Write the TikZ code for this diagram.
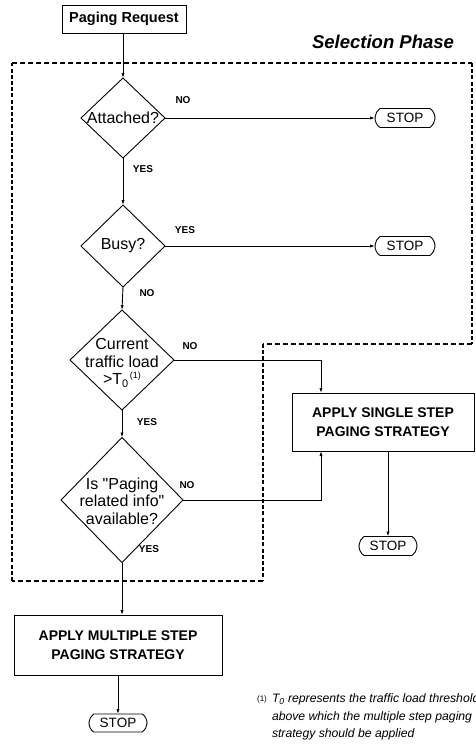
\documentclass[tikz,border=0pt]{standalone}
\usepackage{fontspec}
\setmainfont{Liberation Sans}
\usetikzlibrary{shapes.geometric,shapes.misc,arrows.meta}

\begin{document}
\begin{tikzpicture}[x=1pt,y=-1pt,
  every node/.style={inner sep=0pt, outer sep=0pt},
  line/.style={line width=0.9pt},
  arr/.style={line, -{Latex[length=5pt,width=3.2pt]}},
  box/.style={draw, line width=0.9pt, align=center,
    font=\fontsize{14}{19.5}\selectfont\bfseries},
  dia/.style={draw, diamond, line width=0.9pt},
  dtext/.style={align=center, font=\fontsize{16}{17.5}\selectfont},
  yn/.style={font=\fontsize{10}{10}\selectfont\bfseries},
  stopnode/.style={draw, rounded rectangle, rounded rectangle arc length=110,
    line width=0.9pt, minimum width=58pt, minimum height=19pt,
    font=\fontsize{13.5}{13.5}\selectfont},
  hdash/.style={line width=1.2pt, dash pattern=on 5pt off 3pt},
  vdash/.style={line width=1.5pt, dash pattern=on 4pt off 2.2pt},
]
\useasboundingbox (0,0) rectangle (475,748);

% start box and phase title
\node[box, minimum width=124pt, minimum height=28pt,
  font=\fontsize{14.5}{14.5}\selectfont\bfseries] (req) at (124,19) {Paging Request};
\node[font=\fontsize{18.5}{18.5}\selectfont\bfseries\itshape] (phase) at (383,42) {Selection Phase};

% selection phase frame
\coordinate (d1) at (12,63);
\coordinate (d2) at (472,63);
\coordinate (d3) at (472,344);
\coordinate (d4) at (263,344);
\coordinate (d5) at (263,581);
\coordinate (d6) at (12,581);
\draw[hdash] (d1) -- (d2);
\draw[vdash] (d2) -- (d3);
\draw[hdash] (d3) -- (d4);
\draw[vdash] (d4) -- (d5);
\draw[hdash] (d5) -- (d6);
\draw[vdash] (d6) -- (d1);

% decisions
\node[dia, minimum width=84pt, minimum height=80pt] (att) at (123,118) {};
\node[dtext] (attT) at (att.center) {Attached?};

\node[dia, minimum width=84pt, minimum height=82pt] (busy) at (123,246) {};
\node[dtext] (busyT) at (busy.center) {Busy?};

\node[dia, minimum width=104pt, minimum height=100pt] (cur) at (122,360) {};
\node[dtext] (curT) at (122,363) {Current\\traffic load\\%
  >T\raisebox{-3pt}{\fontsize{11}{11}\selectfont 0}\hspace{1.5pt}\raisebox{6pt}{\fontsize{9}{9}\selectfont (1)}};

\node[dia, minimum width=122pt, minimum height=125pt] (info) at (122,500) {};
\node[dtext] (infoT) at (122,501) {Is \textquotedbl Paging\\related info\textquotedbl\\available?};

% stops of the selection phase
\node[stopnode, minimum width=60pt] (stop1) at (405,118) {STOP};
\node[stopnode, minimum width=60pt] (stop2) at (405,246) {STOP};

% strategies
\node[box, minimum width=182pt, minimum height=58pt] (single) at (383,422)
  {APPLY SINGLE STEP\\PAGING STRATEGY};
\node[stopnode] (stop3) at (388,546) {STOP};

\node[box, minimum width=208pt, minimum height=60pt] (multi) at (118,645)
  {APPLY MULTIPLE STEP\\PAGING STRATEGY};
\node[stopnode, minimum height=18pt] (stop4) at (118,723) {STOP};

% entry points on the single step box
\coordinate (sinT) at ([xshift=29pt]single.north west);
\coordinate (sinB) at ([xshift=29pt]single.south west);

% connectors
\draw[arr] (att.north |- req.south) -- (att.north);
\draw[arr] (att.east) -- (stop1.west);
\draw[arr] (att.south) -- (busy.north);
\draw[arr] (busy.east) -- (stop2.west);
\draw[arr] (busy.south) -- (cur.north);
\draw[arr] (cur.east) -| (sinT);
\draw[arr] (cur.south) -- (info.north);
\draw[arr] (info.east) -| (sinB);
\draw[arr] (stop3.north |- single.south) -- (stop3.north);
\draw[arr] (info.south) -- (info.south |- multi.north);
\draw[arr] (multi.south) -- (stop4.north);

% branch labels
\node[yn] at (183,100) {NO};
\node[yn] at (143,169) {YES};
\node[yn] at (185,230) {YES};
\node[yn] at (147,293) {NO};
\node[yn] at (190,346) {NO};
\node[yn] at (147,422) {YES};
\node[yn] at (187,485) {NO};
\node[yn] at (149,549) {YES};

% footnote
\node[anchor=north west, align=left, font=\fontsize{12.2}{17.5}\selectfont\itshape]
  (note) at (272,694) {T\textsubscript{0} represents the traffic load threshold\\
  above which the multiple step paging\\strategy should be applied};
\node[font=\fontsize{8}{8}\selectfont] (noteref) at (262,699) {(1)};
\end{tikzpicture}
\end{document}
